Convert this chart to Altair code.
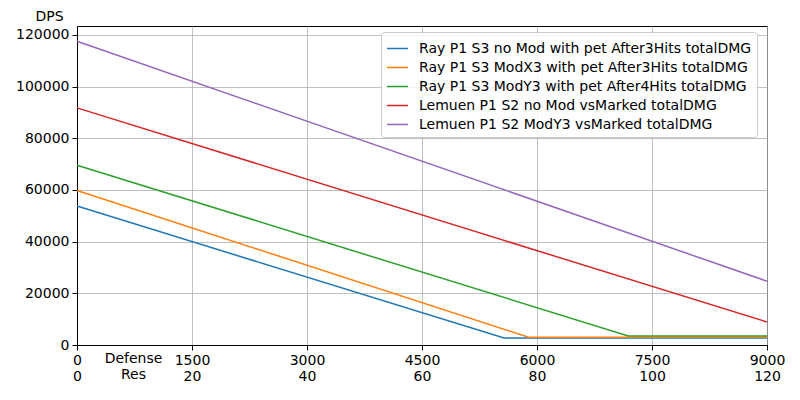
import altair as alt
import pandas as pd

series_names = [
    "Ray P1 S3 no Mod with pet After3Hits totalDMG",
    "Ray P1 S3 ModX3 with pet After3Hits totalDMG",
    "Ray P1 S3 ModY3 with pet After4Hits totalDMG",
    "Lemuen P1 S2 no Mod vsMarked totalDMG",
    "Lemuen P1 S2 ModY3 vsMarked totalDMG",
]
colors = ["#1f77b4", "#ff7f0e", "#2ca02c", "#d62728", "#9467bd"]

# x points (defense) and y values (DPS)
ray_nomod_x = [0, 5570, 9000]
ray_nomod_y = [53800, 2700, 2700]
ray_x3_x = [0, 5890, 9000]
ray_x3_y = [59800, 3000, 3000]
ray_y3_x = [0, 7190, 9000]
ray_y3_y = [69600, 3500, 3500]
lemuen_nomod_x = [0, 9000]
lemuen_nomod_y = [91800, 8900]
lemuen_y3_x = [0, 9000]
lemuen_y3_y = [117600, 24700]

x_ticks = [0, 1500, 3000, 4500, 6000, 7500, 9000]
y_ticks = [0, 20000, 40000, 60000, 80000, 100000, 120000]

rows = []
for i, (name, xs, ys) in enumerate(zip(
        series_names,
        [ray_nomod_x, ray_x3_x, ray_y3_x, lemuen_nomod_x, lemuen_y3_x],
        [ray_nomod_y, ray_x3_y, ray_y3_y, lemuen_nomod_y, lemuen_y3_y])):
    for j, (xv, yv) in enumerate(zip(xs, ys)):
        rows.append({"series": name, "order": i, "idx": j, "defense": xv, "dps": yv})
df = pd.DataFrame(rows)

font = "DejaVu Sans"
fs = 14

chart = alt.Chart(df).mark_line(strokeWidth=1.5).encode(
    x=alt.X("defense:Q",
            scale=alt.Scale(domain=[0, 9000], nice=False, zero=False),
            axis=alt.Axis(values=x_ticks,
                          labelExpr="[format(datum.value, 'd'), format(datum.value/75, 'd')]",
                          labelFlush=False, labelOverlap=False,
                          title=["Defense", "Res"],
                          titleX=56, titleY=6, titleBaseline="top",
                          titleFontWeight="normal", titleFontSize=fs,
                          titleLineHeight=16, titleColor="black",
                          labelLineHeight=16, labelPadding=3,
                          labelBaseline="top")),
    y=alt.Y("dps:Q",
            scale=alt.Scale(domain=[0, 123480], nice=False),
            axis=alt.Axis(values=y_ticks, format="d", title="DPS",
                          titleAngle=0, titleX=-28, titleY=-10,
                          titleAlign="center", titleBaseline="middle",
                          titleFontWeight="normal", titleFontSize=fs,
                          titleColor="black", labelPadding=3)),
    color=alt.Color("series:N",
                    scale=alt.Scale(domain=series_names, range=colors),
                    legend=alt.Legend(title=None, orient="none",
                                      legendX=304, legendY=6,
                                      symbolType="stroke", symbolSize=441,
                                      symbolStrokeWidth=1.5,
                                      labelFontSize=fs, labelFont=font,
                                      labelColor="black", labelLimit=600,
                                      labelOffset=10,
                                      rowPadding=0, padding=5,
                                      fillColor="rgba(255,255,255,0.8)",
                                      strokeColor="#cccccc", cornerRadius=3)),
    detail="order:O",
    order="idx:Q",
).properties(
    width=690, height=319,
    autosize=alt.AutoSizeParams(type="none"),
    padding={"left": 69, "top": 18, "right": 25, "bottom": 40},
).configure_view(
    stroke="black", strokeWidth=1
).configure_axis(
    labelFont=font, titleFont=font, labelFontSize=fs, labelColor="black",
    domainColor="black", tickColor="black", tickSize=5,
    gridColor="#b0b0b0", gridWidth=0.8, grid=True,
)

chart.save("out.html", embed_options={"renderer": "svg", "actions": False})
